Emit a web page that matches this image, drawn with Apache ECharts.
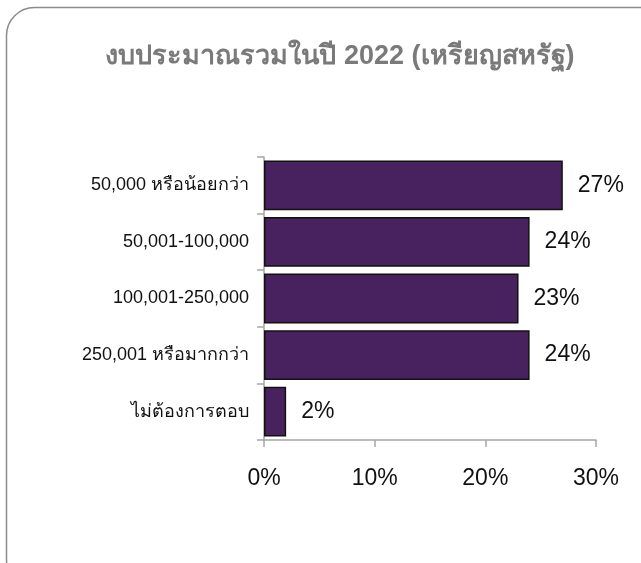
<!DOCTYPE html>
<html><head><meta charset="utf-8">
<script src="https://cdn.jsdelivr.net/npm/echarts@6/dist/echarts.min.js"></script>
<style>html,body{margin:0;padding:0;background:#fff}#c{width:641px;height:563px}</style>
</head><body><div id="c"></div>
<script>
const titleText = 'งบประมาณรวมในปี 2022 (เหรียญสหรัฐ)';
const categories = ['50,000 หรือน้อยกว่า', '50,001-100,000', '100,001-250,000', '250,001 หรือมากกว่า', 'ไม่ต้องการตอบ'];
const values = [27, 24, 23, 24, 2];
const axisMin = 0, axisMax = 30, axisStep = 10;

const chart = echarts.init(document.getElementById('c'), null, {renderer: 'canvas'});
chart.setOption({
  animation: false,
  backgroundColor: '#fff',
  graphic: [{
    type: 'rect', left: 4, top: 5, silent: true,
    shape: {width: 660, height: 580, r: 28},
    style: {fill: 'none', stroke: '#8c8c8c', lineWidth: 1.5}
  }],
  title: {
    text: titleText, left: 335, textAlign: 'center', top: 38,
    textStyle: {fontSize: 27, fontWeight: 'bold', color: '#7a7a7a', fontFamily: 'Liberation Sans, Noto Sans, sans-serif'}
  },
  grid: {left: 264, right: 45, top: 157, bottom: 123, containLabel: false},
  xAxis: {
    type: 'value', min: axisMin, max: axisMax, interval: axisStep,
    axisLine: {show: true, lineStyle: {color: '#a6a6a6', width: 1.5}},
    axisTick: {show: true, length: 7, lineStyle: {color: '#a6a6a6', width: 1.5}},
    splitLine: {show: false},
    axisLabel: {formatter: '{value}%', fontSize: 23, color: '#111', margin: 27, fontFamily: 'Liberation Sans, sans-serif'}
  },
  yAxis: {
    type: 'category', data: categories, inverse: true,
    axisLine: {show: true, lineStyle: {color: '#a6a6a6', width: 1.5}},
    axisTick: {show: true, length: 7, lineStyle: {color: '#a6a6a6', width: 1.5}},
    axisLabel: {fontSize: 18, color: '#111', margin: 15, fontFamily: 'Liberation Sans, sans-serif'}
  },
  series: [{
    type: 'bar', data: values, barCategoryGap: '12%',
    itemStyle: {color: '#48225F', borderColor: '#111', borderWidth: 1.5},
    label: {show: true, position: 'right', distance: 15, formatter: '{c}%', fontSize: 23, color: '#111', fontFamily: 'Liberation Sans, sans-serif'}
  }]
});
</script></body></html>
